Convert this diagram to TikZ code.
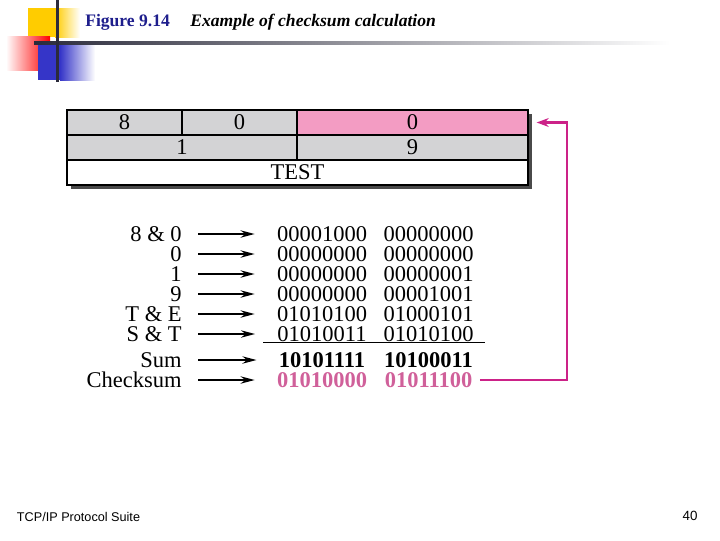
\documentclass[tikz,border=0pt]{standalone}
\usepackage{fontspec}
\setmainfont{Liberation Serif}
\newfontfamily\footfont{Liberation Sans}
\usepackage{xcolor}
\usepackage{tikz}
\usetikzlibrary{arrows.meta,shadings}
\definecolor{cellgrey}{HTML}{D3D3D5}
\definecolor{cellpink}{HTML}{F39CC3}
\definecolor{shadowgrey}{HTML}{4A4A4A}
\definecolor{chkline}{HTML}{CC2288}
\definecolor{chktxt}{HTML}{D0609A}
\definecolor{titleblue}{HTML}{1E1E8C}
\definecolor{barnavy}{HTML}{2B2B3B}
\definecolor{ornblue}{HTML}{3535C8}
\definecolor{ornyellow}{HTML}{FFCC00}
\newcommand{\bigtxt}{\fontsize{16}{16}\selectfont}
\tikzset{
  cell/.style={draw,line width=0.9pt,inner sep=0pt,minimum height=0.625cm,font=\bigtxt},
  lbl/.style={anchor=east,inner sep=0pt,font=\bigtxt},
  bits/.style={inner sep=0pt,font=\bigtxt},
  arr/.style={-{Stealth[length=3.5mm,width=1.8mm]},line width=2pt,shorten <=0.4cm,shorten >=0.55cm},
  marr/.style={-{Stealth[length=3mm,width=2.2mm]},line width=1.6pt,draw=chkline},
}

\begin{document}
\begin{tikzpicture}[x=0.025cm,y=-0.025cm]
\useasboundingbox (0,0) rectangle (720,540);
% corner ornament
\fill[ornyellow] (28,8) rectangle (55,37);
\shade[left color=ornyellow,right color=white] (55,8) rectangle (80,37);
\shade[shading angle=-135,left color=white,right color=red] (6,36) rectangle (50,70);
\fill[ornblue] (38,43) rectangle (60,80);
\shade[left color=ornblue,right color=white] (60,43) rectangle (95,80);
\shade[left color=barnavy,middle color=gray!70,right color=white] (34,41.5) rectangle (670,44.5);
\fill[barnavy] (55.5,0) rectangle (58.5,82);
% title
\node[anchor=west,inner sep=0pt,font=\fontsize{12.5}{12.5}\selectfont\bfseries,text=titleblue] (fig) at (85,22) {Figure 9.14};
\node[anchor=west,inner sep=0pt,font=\fontsize{12.5}{12.5}\selectfont\bfseries\itshape] (cap) at (190,22) {Example of checksum calculation};
% datagram
\fill[shadowgrey] (71,114) rectangle (532,189);
\node[cell,fill=cellgrey,minimum width=2.875cm] (c1) at (124.5,122.5) {8};
\node[cell,fill=cellgrey,minimum width=2.875cm] (c2) at (239.5,122.5) {0};
\node[cell,fill=cellpink,minimum width=5.775cm] (c3) at (412.5,122.5) {0};
\node[cell,fill=cellgrey,minimum width=5.75cm] (d1) at (182,147.5) {1};
\node[cell,fill=cellgrey,minimum width=5.775cm] (d2) at (412.5,147.5) {9};
\node[cell,fill=white,minimum width=11.525cm] (e1) at (297.5,172.5) {TEST};
% words
\foreach \y/\lab/\hi/\lo [count=\i] in {234/8 \& 0/00001000/00000000,254/0/00000000/00000000,
    274/1/00000000/00000001,294/9/00000000/00001001,314/T \& E/01010100/01000101,
    334/S \& T/01010011/01010100}{
  \node[lbl] (l\i) at (182,\y) {\lab};
  \node[bits] (a\i) at (322,\y) {\hi};
  \node[bits] (b\i) at (428.5,\y) {\lo};
}
\draw[line width=0.7pt] (263,342) -- (485,342);
\node[lbl] (l7) at (182,360) {Sum};
\node[bits,font=\bigtxt\bfseries] (a7) at (322,360) {10101111};
\node[bits,font=\bigtxt\bfseries] (b7) at (428.5,360) {10100011};
\node[lbl] (l8) at (182,380) {Checksum};
\node[bits,font=\bigtxt\bfseries,text=chktxt] (a8) at (322,380) {01010000};
\node[bits,font=\bigtxt\bfseries,text=chktxt] (b8) at (428.5,380) {01011100};
\foreach \i in {1,...,8} \draw[arr] (l\i.east) -- (a\i.west);
% checksum back into the header
\coordinate (turn) at (567,0);
\draw[marr,shorten <=0.18cm,shorten >=0.2cm] (b8.east) -| (turn |- c3.east) -- (c3.east);
% footer
\node[anchor=west,font=\footfont\fontsize{9}{9}\selectfont] (suite) at (12,517) {TCP/IP Protocol Suite};
\node[font=\footfont\fontsize{9.5}{9.5}\selectfont] (page) at (690,516) {40};
\end{tikzpicture}
\end{document}
